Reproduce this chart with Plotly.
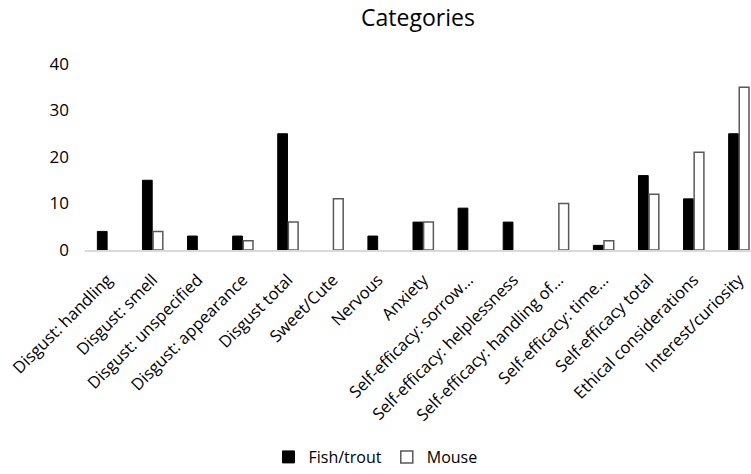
import plotly.graph_objects as go

categories = [
    "Disgust: handling", "Disgust: smell", "Disgust: unspecified",
    "Disgust: appearance", "Disgust total", "Sweet/Cute", "Nervous",
    "Anxiety", "Self-efficacy: sorrow…", "Self-efficacy: helplessness",
    "Self-efficacy: handling of…", "Self-efficacy: time…",
    "Self-efficacy total", "Ethical considerations", "Interest/curiosity",
]
fish_trout = [4, 15, 3, 3, 25, 0, 3, 6, 9, 6, 0, 1, 16, 11, 25]
mouse = [0, 4, 0, 2, 6, 11, 0, 6, 0, 0, 10, 2, 12, 21, 35]
y_ticks = [0, 10, 20, 30, 40]

FONT = "Open Sans, Liberation Sans, sans-serif"


def nonzero(values):
    # empty counts get no bar at all, so no outline stub sits on the axis
    return [v if v else None for v in values]


fig = go.Figure()
fig.add_trace(go.Bar(
    name="Fish/trout", x=categories, y=nonzero(fish_trout),
    marker=dict(color="black", line=dict(color="black", width=1)),
))
fig.add_trace(go.Bar(
    name="Mouse", x=categories, y=nonzero(mouse),
    marker=dict(color="white", line=dict(color="#595959", width=1.5)),
))

fig.update_layout(
    width=751, height=474,
    paper_bgcolor="white", plot_bgcolor="white",
    margin=dict(l=85, r=0, t=64, b=224),
    barmode="group", bargap=0.53, bargroupgap=0.08,
    font=dict(family=FONT, color="#000000", size=15),
    title=dict(text="Categories", x=0.5, xref="paper", xanchor="center",
               y=0.962, yref="container", yanchor="middle",
               font=dict(size=23, family=FONT, color="#000000")),
    showlegend=True,
    legend=dict(orientation="h", xref="container", x=0.5, xanchor="center",
                yref="container", y=-0.012, yanchor="bottom",
                font=dict(size=16, family=FONT), traceorder="normal",
                itemwidth=30),
)
fig.update_xaxes(
    range=[-0.5, 14.27], tickangle=-45, showgrid=False,
    showline=True, linecolor="#d9d9d9", linewidth=1.5,
    ticks="", ticklabelstandoff=12, tickfont=dict(size=16.5, family=FONT),
)
fig.update_yaxes(
    range=[0, 40], tickvals=y_ticks, showgrid=False, zeroline=False,
    showline=False, ticks="", ticklabelstandoff=15,
    tickfont=dict(size=17, family=FONT),
)

fig.write_html("out.html")
